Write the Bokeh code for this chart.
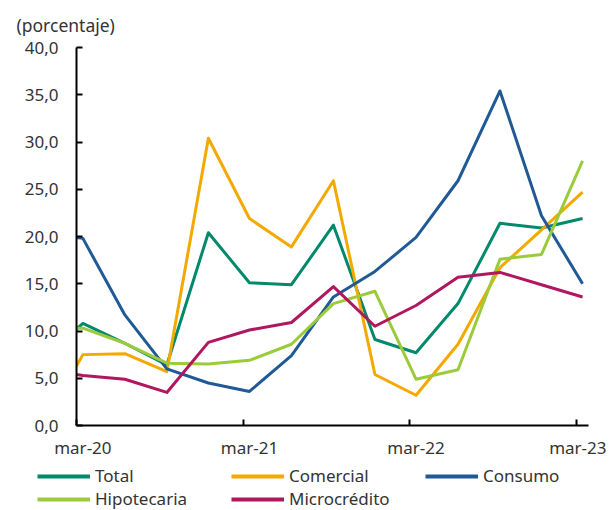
import pandas as pd
from bokeh.plotting import figure
from bokeh.layouts import column
from bokeh.models import Range1d, LinearAxis, FixedTicker, Legend, LegendItem, Title
from bokeh.embed import file_html
from bokeh.resources import INLINE

# ---------------- data ----------------
fechas = ["2020-03-01", "2020-03-15", "2020-06-15", "2020-09-15", "2020-12-15",
          "2021-03-15", "2021-06-15", "2021-09-15", "2021-12-15",
          "2022-03-15", "2022-06-15", "2022-09-15", "2022-12-15", "2023-03-15"]

total =        [10.2, 10.8, 8.7, 6.4, 20.4, 15.1, 14.9, 21.2, 9.1, 7.7, 12.9, 21.4, 20.9, 21.9]
comercial =    [6.3, 7.5, 7.6, 5.7, 30.4, 21.9, 18.9, 25.9, 5.4, 3.2, 8.6, 16.7, 20.7, 24.7]
consumo =      [19.9, 19.8, 11.7, 6.0, 4.5, 3.6, 7.4, 13.6, 16.3, 19.9, 25.9, 35.4, 22.2, 15.0]
hipotecaria =  [10.3, 10.3, 8.7, 6.6, 6.5, 6.9, 8.6, 12.9, 14.2, 4.9, 5.9, 17.6, 18.1, 28.0]
microcredito = [5.4, 5.3, 4.9, 3.5, 8.8, 10.1, 10.9, 14.7, 10.5, 12.7, 15.7, 16.2, 14.9, 13.6]

series_nombres = ["Total", "Comercial", "Consumo", "Hipotecaria", "Microcrédito"]
series_colores = ["#00896B", "#F4A900", "#1F5A96", "#9BCB3B", "#B0175E"]

tick_fechas = ["2020-03-01", "2021-03-01", "2022-03-01", "2023-03-01"]
etiqueta_fechas = ["2020-03-15", "2021-03-15", "2022-03-15", "2023-03-15"]
etiquetas_x = ["mar-20", "mar-21", "mar-22", "mar-23"]
rango_x = ["2020-03-01", "2023-03-28"]

y_ticks = [0, 5, 10, 15, 20, 25, 30, 35, 40]
y_etiquetas = ["0,0", "5,0", "10,0", "15,0", "20,0", "25,0", "30,0", "35,0", "40,0"]

FONT = "Noto Sans"
TXT = "#333333"
FS = "17px"


def ms(lista):
    return [float(pd.Timestamp(d).value // 10**6) for d in lista]


x = ms(fechas)
xr = ms(rango_x)
todas = [total, comercial, consumo, hipotecaria, microcredito]

p = figure(width=606, height=462, x_range=Range1d(xr[0], xr[1]), y_range=Range1d(0, 40),
           x_axis_type=None, y_axis_type=None, toolbar_location=None, output_backend="svg",
           min_border_left=76, min_border_right=18, min_border_top=44, min_border_bottom=37)
p.frame_align = False
p.outline_line_color = None
p.background_fill_color = "white"
p.border_fill_color = "white"

p.title = Title(text="(porcentaje)", align="left", offset=-60, standoff=21,
                text_font=FONT, text_font_size="17.5px", text_font_style="normal",
                text_color=TXT)

# y axis
yax = LinearAxis(ticker=FixedTicker(ticks=y_ticks, minor_ticks=[]),
                 major_label_overrides={t: l for t, l in zip(y_ticks, y_etiquetas)})
yax.axis_line_color = "black"
yax.axis_line_width = 2
yax.major_tick_line_color = "black"
yax.major_tick_line_width = 2
yax.major_tick_in = 6
yax.major_tick_out = 0
yax.minor_tick_line_color = None
yax.major_label_standoff = 18
yax.major_label_text_font = FONT
yax.major_label_text_font_size = FS
yax.major_label_text_color = TXT
p.add_layout(yax, "left")

# x axis: line and tick marks
xax = LinearAxis(ticker=FixedTicker(ticks=ms(tick_fechas), minor_ticks=[]),
                 major_label_overrides={t: "" for t in ms(tick_fechas)})
xax.axis_line_color = "black"
xax.axis_line_width = 2
xax.major_tick_line_color = "black"
xax.major_tick_line_width = 2
xax.major_tick_in = 6
xax.major_tick_out = 0
xax.minor_tick_line_color = None
xax.major_label_standoff = 0
xax.major_label_text_font_size = "1px"
p.add_layout(xax, "below")

# x axis: labels
lx = ms(etiqueta_fechas)
xlab = LinearAxis(ticker=FixedTicker(ticks=lx, minor_ticks=[]),
                  major_label_overrides={t: l for t, l in zip(lx, etiquetas_x)})
xlab.axis_line_color = None
xlab.major_tick_line_color = None
xlab.major_tick_in = 0
xlab.major_tick_out = 0
xlab.minor_tick_line_color = None
xlab.major_label_standoff = 10
xlab.major_label_text_font = FONT
xlab.major_label_text_font_size = FS
xlab.major_label_text_color = TXT
p.add_layout(xlab, "below")

for serie, color in zip(todas, series_colores):
    p.line(x, serie, line_color=color, line_width=3, line_join="round")

# legend in its own strip below the chart (its lines lie outside the strip's ranges)
pl = figure(width=606, height=48, x_range=Range1d(0, 1), y_range=Range1d(0, 1),
            x_axis_type=None, y_axis_type=None, toolbar_location=None, output_backend="svg",
            min_border_left=0, min_border_right=0, min_border_top=0, min_border_bottom=0)
pl.frame_align = False
pl.outline_line_color = None
pl.background_fill_color = "white"
pl.border_fill_color = "white"

items = []
for nombre, serie, color in zip(series_nombres, todas, series_colores):
    r = pl.line(x, serie, line_color=color, line_width=4)
    items.append(LegendItem(label=nombre, renderers=[r]))

legend = Legend(items=items, orientation="horizontal", ncols=3, location=(37, 0),
                padding=0, margin=0, border_line_color=None, background_fill_alpha=0,
                glyph_width=53, glyph_height=18, label_height=18, label_standoff=5,
                label_width=136, spacing=0,
                label_text_font=FONT, label_text_font_size=FS, label_text_color=TXT)
pl.add_layout(legend, "center")

open("out.html", "w").write(file_html(column(p, pl, spacing=0), INLINE))
